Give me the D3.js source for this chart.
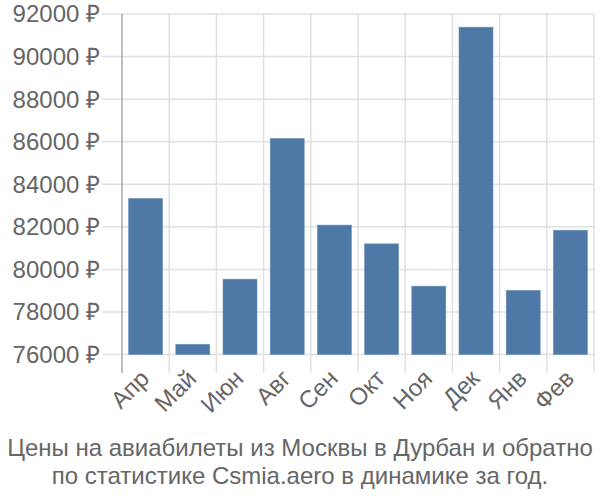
<!DOCTYPE html>
<html><head><meta charset="utf-8">
<script src="https://cdn.jsdelivr.net/npm/d3@7"></script>
<style>body{margin:0;background:#fff;}svg{display:block;font-family:"Liberation Sans",Arial,sans-serif;}</style>
</head><body>
<svg id="c" width="600" height="500"></svg>
<script>
const months = ["Апр","Май","Июн","Авг","Сен","Окт","Ноя","Дек","Янв","Фев"];
const prices = [83330, 76480, 79540, 86150, 82080, 81200, 79210, 91380, 79010, 81840];
const yTicks = [76000, 78000, 80000, 82000, 84000, 86000, 88000, 90000, 92000];
const titleLines = ["Цены на авиабилеты из Москвы в Дурбан и обратно", "по статистике Csmia.aero в динамике за год."];

(function () {
const svg = d3.select("#c");
const pLeft = 122, pRight = 594, pTop = 14, pBottom = 354.5, tickEnd = 373;
const x = d3.scaleBand().domain(months).range([pLeft, pRight]).paddingInner(0.28).paddingOuter(0.14);
const y = d3.scaleLinear().domain([76000, 92000]).range([pBottom, pTop]);
const step = x.step();

svg.append("g").selectAll("line").data(yTicks).join("line")
  .attr("x1", 102).attr("x2", pRight).attr("y1", d => y(d)).attr("y2", d => y(d))
  .attr("stroke", "#e0e0e0").attr("stroke-width", 1.5);
const bounds = d3.range(months.length + 1).map(i => pLeft + i * step);
svg.append("g").selectAll("line").data(bounds).join("line")
  .attr("x1", d => d).attr("x2", d => d).attr("y1", pTop).attr("y2", tickEnd)
  .attr("stroke", (d, i) => i === 0 ? "#aaaaaa" : "#e0e0e0").attr("stroke-width", 1.5);

svg.append("g").selectAll("rect").data(prices).join("rect")
  .attr("x", (d, i) => x(months[i])).attr("width", x.bandwidth())
  .attr("y", d => y(d)).attr("height", d => y(76000) - y(d))
  .attr("fill", "#4e79a7").attr("stroke", "#6b8fb8").attr("stroke-width", 0.6);

svg.append("g").selectAll("text").data(yTicks).join("text")
  .attr("x", 100).attr("y", d => y(d)).attr("dy", "0.35em")
  .attr("text-anchor", "end").attr("font-size", 24).attr("fill", "#666")
  .text(d => d + " ₽");

svg.append("g").selectAll("text").data(months).join("text")
  .attr("transform", d => `translate(${x(d) + x.bandwidth() / 2 + 5},${380}) rotate(-45)`)
  .attr("text-anchor", "end").attr("font-size", 24).attr("fill", "#666")
  .text(d => d);

svg.append("g").selectAll("text").data(titleLines).join("text")
  .attr("x", 300).attr("y", (d, i) => 456 + i * 27.5)
  .attr("text-anchor", "middle").attr("font-size", 24).attr("fill", "#666")
  .text(d => d);
})();
</script>
</body></html>
